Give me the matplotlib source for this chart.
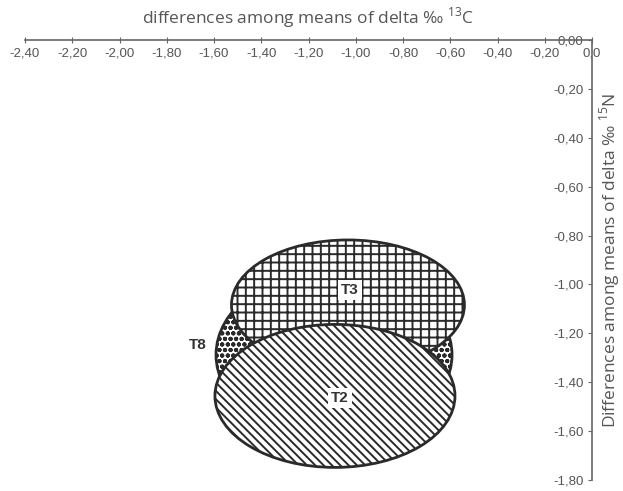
import numpy as np
import matplotlib.pyplot as plt
from matplotlib.patches import Ellipse

# groupes (dessines du fond vers l'avant)
groups = ['T8', 'T3', 'T2']
centre_c13 = [-1.092, -1.033, -1.088]
centre_n15 = [-1.288, -1.084, -1.456]
largeur = [0.999, 0.986, 1.016]
hauteur = [0.695, 0.532, 0.585]
motifs = ['ooo', '++', '\\\\\\\\']

# position des etiquettes
label_c13 = [-1.67, -1.024, -1.067]
label_n15 = [-1.247, -1.023, -1.464]
label_fond = [False, True, True]

x_ticks = np.arange(-2.40, 0.001, 0.20)
y_ticks = np.arange(-1.80, 0.001, 0.20)

gris = '#555555'
plt.rcParams['font.family'] = ['Liberation Sans Narrow', 'Liberation Sans', 'DejaVu Sans']
plt.rcParams['hatch.linewidth'] = 1.4
plt.rcParams['hatch.color'] = '#2a2a2a'
plt.rcParams['mathtext.fontset'] = 'custom'
plt.rcParams['mathtext.rm'] = 'Open Sans'

fig = plt.figure(figsize=(6.23, 4.91), dpi=100)
ax = fig.add_axes([25 / 623, 1 - 480 / 491, 567 / 623, 440 / 491])

for i, g in enumerate(groups):
    e = Ellipse((centre_c13[i], centre_n15[i]), largeur[i], hauteur[i],
                facecolor='white', edgecolor='#2a2a2a', lw=2,
                hatch=motifs[i], zorder=2 + i)
    ax.add_patch(e)
    box = dict(facecolor='white', edgecolor='none', pad=2) if label_fond[i] else None
    ax.text(label_c13[i], label_n15[i], g, ha='center', va='center',
            fontsize=11, fontweight='bold', color='#333333', bbox=box, zorder=10)

ax.set_xlim(-2.40, 0)
ax.set_ylim(-1.80, 0)

# axes : x en haut, y a droite
ax.spines['right'].set_visible(False)
ax.spines['top'].set_visible(False)
ax.spines['bottom'].set_position(('data', 0))
ax.spines['left'].set_position(('data', 0))
for s in ['bottom', 'left']:
    ax.spines[s].set_color('#666666')
    ax.spines[s].set_linewidth(1.2)

ax.set_xticks(x_ticks)
ax.set_xticklabels([('%.2f' % v).replace('.', ',') if abs(v) > 1e-9 else '0,0' for v in x_ticks])
ax.set_yticks(y_ticks)
ax.set_yticklabels([('%.2f' % v).replace('.', ',') if abs(v) > 1e-9 else '0,00' for v in y_ticks])
ax.tick_params(axis='x', direction='inout', length=5, width=0.8, colors='#666666',
               labelcolor=gris, labelsize=9.5, pad=3)
ax.tick_params(axis='y', direction='out', length=3, width=0.8, colors='#666666',
               labelcolor=gris, labelsize=9.5, pad=3)

ax.xaxis.set_label_position('top')
ax.set_xlabel('differences among means of delta \u2030 $^{13}$C', fontsize=12.5,
              color=gris, family=['Open Sans', 'DejaVu Sans'], labelpad=12)
ax.yaxis.set_label_position('right')
ax.set_ylabel('Differences among means of delta \u2030 $^{15}$N', fontsize=12.5,
              color=gris, family=['Open Sans', 'DejaVu Sans'], labelpad=4)

fig.savefig('out.png', dpi=100)
